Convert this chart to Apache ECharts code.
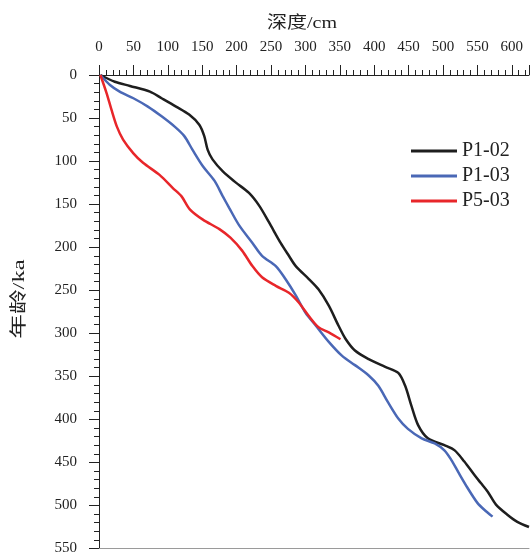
<!DOCTYPE html>
<html>
<head>
<meta charset="utf-8">
<script src="https://cdn.jsdelivr.net/npm/echarts@6/dist/echarts.min.js"></script>
<style>
html,body{margin:0;padding:0;background:#fff;}
#chart{width:532px;height:556px;}
</style>
</head>
<body>
<div id="chart"></div>
<script>
// Depth (cm) and age (ka)
var seriesNames = ['P1-02', 'P1-03', 'P5-03'];
var p102Depth = [2,23,45,74,91,112,131,146,153,158,165,180,199,218,233,247,264,276,286,305,319,334,348,358,372,392,416,435,445,454,464,478,502,517,531,546,555,565,577,594,608,625];
var p102Age   = [0,7.8,12.7,19.3,27,36.7,46,58,71,87,98,112,125,137,152,171,195,210,222,237,249,268,291,306,320,330,339,346,361,384,407,422,430,436,449,465,474,484,499,511,519,525];
var p103Depth = [2,16,30,50,71,91,110,124,136,151,168,180,189,204,223,237,257,271,286,300,315,334,353,372,392,406,420,435,449,469,488,502,512,522,536,550,560,572];
var p103Age   = [0,11.6,19.3,27,36.7,48,60,71,87,106,123,141,154,175,195,210,222,237,256,276,291,310,326,337,349,361,380,399,411,422,428,436,447,461,480,497,505,513];
var p503Depth = [2,11,18,26,35,50,64,88,107,120,132,151,175,191,208,223,237,257,276,290,305,319,334,351];
var p503Age   = [0,21,40,60,75,91,102,116,131,141,156,168,179,189,204,222,235,245,253,264,280,293,299,307];
var xTicks = {min: 0, max: 625, interval: 50};
var yTicks = {min: 0, max: 550, interval: 50};
var colors = ['#1e1e1e', '#4a68b6', '#e8262a'];

function zip(a, b) { return a.map(function (v, i) { return [v, b[i]]; }); }
var allData = [zip(p102Depth, p102Age), zip(p103Depth, p103Age), zip(p503Depth, p503Age)];

var numFont = 'Liberation Serif, Times New Roman, serif';
var cjkFont = 'Liberation Serif, Noto Sans CJK SC, serif';

var chart = echarts.init(document.getElementById('chart'), null, {renderer: 'canvas'});
chart.setOption({
  animation: false,
  backgroundColor: '#fff',
  grid: {left: 99, top: 75, right: 0, bottom: 6, containLabel: false},
  legend: {
    orient: 'vertical', left: 406, top: 136, itemWidth: 46, itemHeight: 3, itemGap: 5,
    icon: 'rect',
    data: seriesNames,
    textStyle: {fontFamily: numFont, fontSize: 20, color: '#222'}
  },
  graphic: [
    {type: 'text', x: 302, y: 24, scaleX: 1.18,
     style: {text: '深度/cm', font: '17px ' + cjkFont, fill: '#222', align: 'center', verticalAlign: 'middle'}},
    {type: 'text', x: 20, y: 299, rotation: Math.PI / 2, scaleX: 1.45,
     style: {text: '年龄/ka', font: '17px ' + cjkFont, fill: '#222', align: 'center', verticalAlign: 'middle'}}
  ],
  xAxis: [{
    type: 'value', position: 'top', min: xTicks.min, max: xTicks.max, interval: xTicks.interval,
    axisLine: {show: true, lineStyle: {color: '#222', width: 1}},
    axisTick: {show: true, length: 10, lineStyle: {color: '#222'}},
    minorTick: {show: true, splitNumber: 5, length: 5, lineStyle: {color: '#222'}},
    splitLine: {show: false},
    axisLabel: {margin: 20, fontFamily: numFont, fontSize: 15, color: '#222',
      formatter: function (v) { return v % 50 === 0 ? String(v) : ''; }}
  }, {
    type: 'value', position: 'bottom', min: xTicks.min, max: xTicks.max,
    axisLine: {show: true, lineStyle: {color: '#9a9a9a', width: 1}},
    axisTick: {show: false}, axisLabel: {show: false}, splitLine: {show: false}
  }],
  yAxis: {
    type: 'value', inverse: true, min: yTicks.min, max: yTicks.max, interval: yTicks.interval,
    axisLine: {show: true, onZero: false, lineStyle: {color: '#222', width: 1}},
    axisTick: {show: true, length: 10, lineStyle: {color: '#222'}},
    minorTick: {show: true, splitNumber: 5, length: 5, lineStyle: {color: '#222'}},
    splitLine: {show: false},
    axisLabel: {margin: 22, fontFamily: numFont, fontSize: 15, color: '#222'}
  },
  series: seriesNames.map(function (n, i) {
    return {
      name: n, type: 'line', xAxisIndex: 0, data: allData[i],
      showSymbol: false, symbol: 'none', smooth: 0.3,
      lineStyle: {color: colors[i], width: 2.5}, itemStyle: {color: colors[i]}
    };
  })
});
</script>
</body>
</html>
